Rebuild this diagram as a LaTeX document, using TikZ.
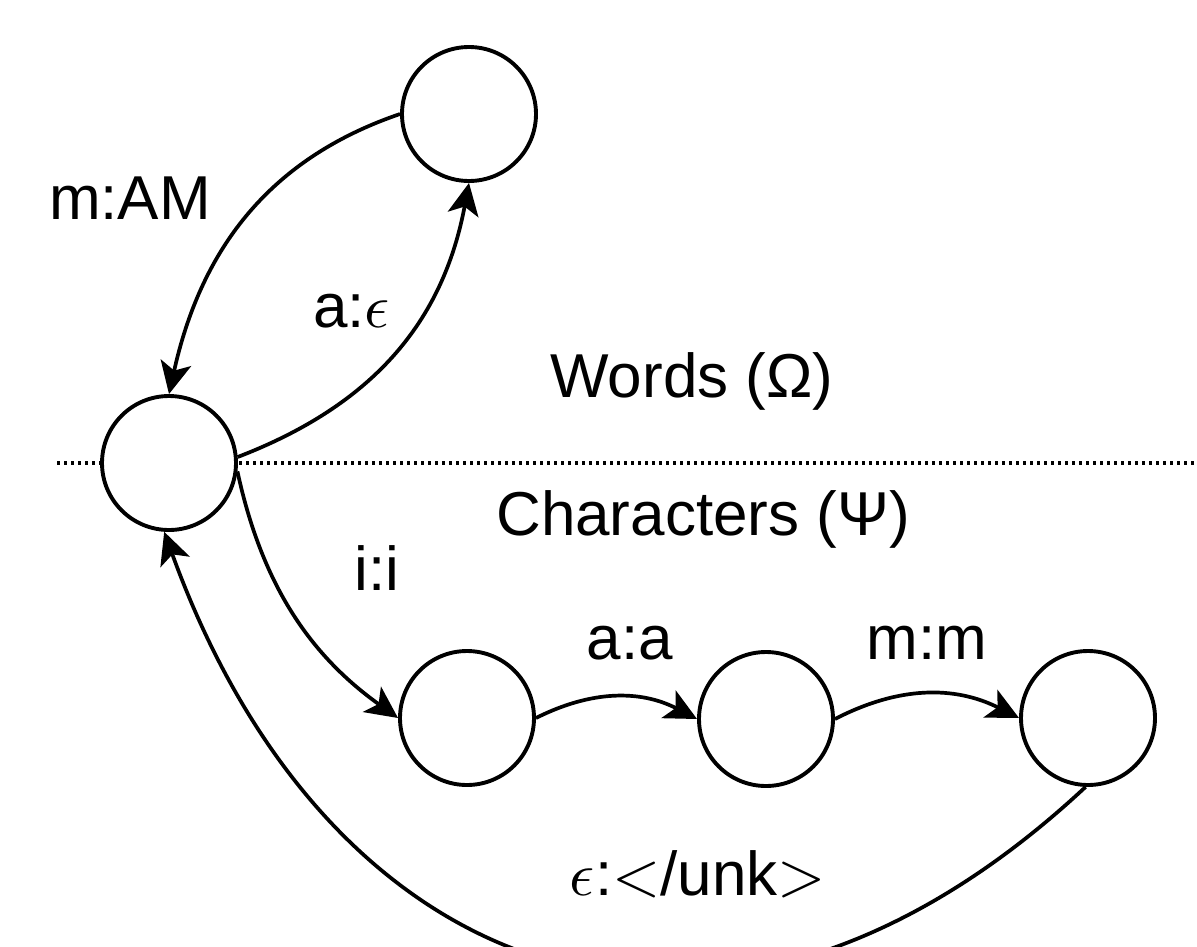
\documentclass[tikz,border=0pt]{standalone}
\usepackage{fontspec}
\setmainfont{Liberation Sans}
% scalable math fonts, so that math follows the large text size
\DeclareFontFamily{OML}{cmm}{\skewchar\font127}
\DeclareFontShape{OML}{cmm}{m}{it}{<->cmmi10}{}
\DeclareFontFamily{OMS}{cmsy}{\skewchar\font48}
\DeclareFontShape{OMS}{cmsy}{m}{n}{<->cmsy10}{}
\DeclareFontFamily{OMX}{cmex}{}
\DeclareFontShape{OMX}{cmex}{m}{n}{<->cmex10}{}
\DeclareFontShape{OT1}{cmr}{m}{n}{<->cmr10}{}
\DeclareMathSizes{62}{62}{43}{31}
\usetikzlibrary{arrows.meta}

\tikzset{
  state/.style={circle, draw, line width=3.9pt, fill=white, minimum size=134pt, inner sep=0pt},
  trans/.style={line width=3.7pt, -{Stealth[length=32pt, width=31pt, inset=8pt]}},
  lbl/.style={inner sep=0pt, font=\fontsize{62}{70}\selectfont},
  divider/.style={line width=3.4pt, dash pattern=on 3.4pt off 3.6pt},
}

\begin{document}
\begin{tikzpicture}[x=1pt, y=-1pt]
  \useasboundingbox (0,0) rectangle (1197,946);

  % boundary between the word level and the character level
  \coordinate (divL) at (57,463);
  \coordinate (divR) at (1197,463);
  \draw[divider] (divL) -- (divR);

  % states
  \node[state] (A) at (469,114) {};
  \node[state] (B) at (169,463) {};
  \node[state] (C) at (467,718) {};
  \node[state] (D) at (766,719) {};
  \node[state] (E) at (1088,718) {};

  % transitions
  \draw[trans] (A.west) .. controls (265,160) and (200,254) .. (B.north);
  \draw[trans] (B.5) .. controls (373,405) and (443,322) .. (A.south);
  \draw[trans] (B.-7) .. controls (262,585) and (310,655) .. (C.west);
  \draw[trans] (C.east) to[bend left=27] (D.west);
  \draw[trans] (D.east) to[bend left=27] (E.west);
  \draw[trans] (E.-92) .. controls (721,1127) and (330,990) .. (B.-94);

  % labels
  \node[lbl, anchor=base] (lmAM) at (130,219) {m:AM};
  \node[lbl, anchor=base west] (laeps) at (313,327) {a:$\epsilon$};
  \node[lbl, anchor=base] (lwords) at (692,397) {Words (Ω)};
  \node[lbl, anchor=base] (lchars) at (703,535) {Characters (Ψ)};
  \node[lbl, anchor=base] (lii) at (377,590) {i:i};
  \node[lbl, anchor=base] (laa) at (630,659) {a:a};
  \node[lbl, anchor=base] (lmm) at (927,659) {m:m};
  \node[lbl, anchor=base] (lunk) at (698,895) {$\epsilon$:$<$/unk$>$};
\end{tikzpicture}
\end{document}
